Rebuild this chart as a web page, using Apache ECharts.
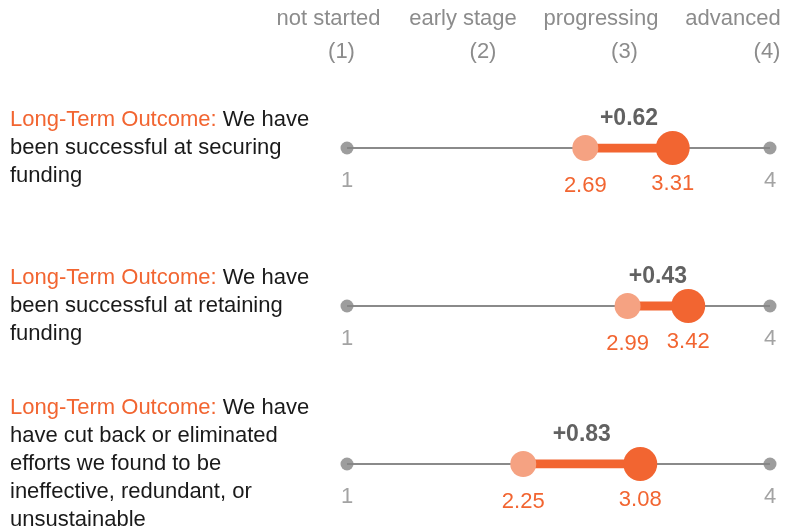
<!DOCTYPE html>
<html><head><meta charset="utf-8">
<script src="https://cdn.jsdelivr.net/npm/echarts@6/dist/echarts.min.js"></script>
<style>html,body{margin:0;padding:0;background:#fff}#c{width:797px;height:531px}</style>
</head><body><div id="c"></div>
<script>
// ---- data ----
const categories = ['securing funding', 'retaining funding', 'cut back efforts'];
const labelPrefix = 'Long-Term Outcome:';
const labelLines = [
  ['We have', 'been successful at securing', 'funding'],
  ['We have', 'been successful at retaining', 'funding'],
  ['We have', 'have cut back or eliminated', 'efforts we found to be', 'ineffective, redundant, or', 'unsustainable']
];
const before = [2.69, 2.99, 2.25];
const after = [3.31, 3.42, 3.08];
const scaleEnds = [1, 4];
const headerNames = ['not started', 'early stage', 'progressing', 'advanced'];
const headerValues = [1, 2, 3, 4];

// ---- style ----
const ORANGE = '#F26531', LIGHT = '#F5A282', GREY = '#8a8a8a', TXTGREY = '#8c8c8c';
const FONT = 'Liberation Sans';
const headerOffsets1 = [-18.5, -25, -28, -37];
const headerOffsets2 = [-5.5, -5, -4.5, -3];

const chart = echarts.init(document.getElementById('c'), null, {renderer: 'canvas'});

const series = [];
categories.forEach((c, i) => {
  series.push({
    type: 'line', data: scaleEnds.map(v => [v, i]), symbol: 'none', silent: true, z: 1,
    lineStyle: {color: GREY, width: 2}
  });
  series.push({
    type: 'line', data: [[before[i], i], [after[i], i]], symbol: 'none', silent: true, z: 2,
    lineStyle: {color: ORANGE, width: 9}
  });
});
series.push({
  type: 'scatter', z: 3, symbolSize: 13, itemStyle: {color: '#858585'},
  data: categories.flatMap((c, i) => scaleEnds.map(v => [v, i])),
  label: {show: true, position: 'bottom', distance: 15, color: TXTGREY, fontSize: 22, fontFamily: FONT,
    formatter: p => String(p.value[0])}
});
series.push({
  type: 'scatter', z: 4, symbolSize: 26, itemStyle: {color: LIGHT, opacity: 1},
  data: before.map((v, i) => [v, i]),
  label: {show: true, position: 'bottom', distance: 14, color: ORANGE, fontSize: 22, fontFamily: FONT,
    formatter: p => p.value[0].toFixed(2)}
});
series.push({
  type: 'scatter', z: 5, symbolSize: 34, itemStyle: {color: ORANGE, opacity: 1},
  data: after.map((v, i) => [v, i]),
  label: {show: true, position: 'bottom', distance: 8, color: ORANGE, fontSize: 22, fontFamily: FONT,
    formatter: p => p.value[0].toFixed(2)}
});
series.push({
  type: 'scatter', z: 6, symbolSize: 1, itemStyle: {color: 'rgba(0,0,0,0)'},
  data: before.map((v, i) => [(v + after[i]) / 2, i, after[i] - v]),
  label: {show: true, position: 'top', distance: 17, color: '#3a3a3a', fontSize: 23, fontWeight: 'bold', fontFamily: FONT,
    formatter: p => '+' + p.value[2].toFixed(2)}
});

chart.setOption({
  animation: false,
  textStyle: {fontFamily: FONT},
  grid: {left: 347, right: 27, top: 148, bottom: 66},
  xAxis: {type: 'value', min: 1, max: 4, show: false},
  yAxis: {
    type: 'category', data: categories, inverse: true, boundaryGap: false,
    axisLine: {show: false}, axisTick: {show: false}, splitLine: {show: false},
    axisLabel: {
      interval: 0, align: 'left', margin: 337, verticalAlign: 'middle',
      formatter: (val, idx) => {
        const l = labelLines[idx];
        return '{o|' + labelPrefix + ' }{t|' + l[0] + '}\n' + l.slice(1).map(s => '{t|' + s + '}').join('\n');
      },
      rich: {
        o: {color: ORANGE, fontSize: 22, lineHeight: 28, fontFamily: FONT},
        t: {color: '#1a1a1a', fontSize: 22, lineHeight: 28, fontFamily: FONT}
      }
    }
  },
  series: series
});

const graphics = [];
headerValues.forEach((v, k) => {
  const px = chart.convertToPixel({xAxisIndex: 0}, v);
  graphics.push({type: 'text', x: px + headerOffsets1[k], y: 19,
    style: {text: headerNames[k], fill: TXTGREY, fontSize: 22, fontFamily: FONT, align: 'center', verticalAlign: 'middle'}});
  graphics.push({type: 'text', x: px + headerOffsets2[k], y: 52,
    style: {text: '(' + v + ')', fill: TXTGREY, fontSize: 22, fontFamily: FONT, align: 'center', verticalAlign: 'middle'}});
});
chart.setOption({graphic: graphics});
</script>
</body></html>
